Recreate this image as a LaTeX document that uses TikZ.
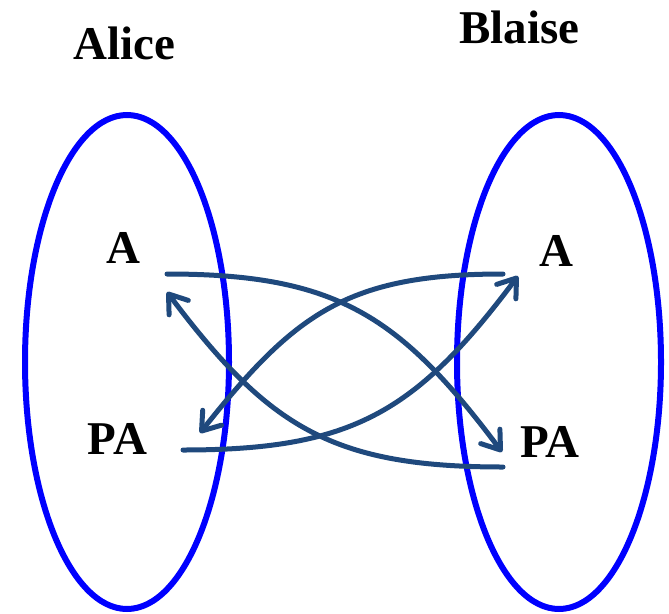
\documentclass[tikz,border=0pt]{standalone}
\usepackage{fontspec}
\setmainfont{Liberation Serif}
\usetikzlibrary{arrows.meta}
\definecolor{linkblue}{HTML}{1F497D}
\definecolor{ringblue}{HTML}{0000FF}
\tikzset{
  lbl/.style={font=\fontsize{47}{50}\selectfont\bfseries, anchor=base, inner sep=0pt},
  ring/.style={draw=ringblue, line width=6pt},
  link/.style={draw=linkblue, line width=5pt, line cap=round,
    -{Straight Barb[length=17pt,width=24pt,round]}}
}
\begin{document}
\begin{tikzpicture}[x=1pt,y=-1pt]
\useasboundingbox (0,0) rectangle (669,613);
\draw[ring] (127,362) ellipse [x radius=102, y radius=247];
\draw[ring] (559,362) ellipse [x radius=102, y radius=247];
\node[lbl] (alice) at (124.5,59) {Alice};
\node[lbl] (blaise) at (519.5,43) {Blaise};
\node[lbl] (la) at (123.5,263) {A};
\node[lbl] (lpa) at (117.5,454) {PA};
\node[lbl] (ra) at (556,266) {A};
\node[lbl] (rpa) at (550,457) {PA};
% endpoints
\coordinate (s1) at (167,274);
\coordinate (e1) at (502,452);
\coordinate (s2) at (503,274);
\coordinate (e2) at (200,433);
\coordinate (s3) at (183,450);
\coordinate (e3) at (518,276);
\coordinate (s4) at (503,467);
\coordinate (e4) at (167,292);
\draw[link] (s1) .. controls (337,274) and (400,316) .. (e1);
\draw[link] (s2) .. controls (348,274) and (295,313) .. (e2);
\draw[link] (s3) .. controls (353,450) and (416,412) .. (e3);
\draw[link] (s4) .. controls (333,467) and (269,428) .. (e4);
\end{tikzpicture}
\end{document}
